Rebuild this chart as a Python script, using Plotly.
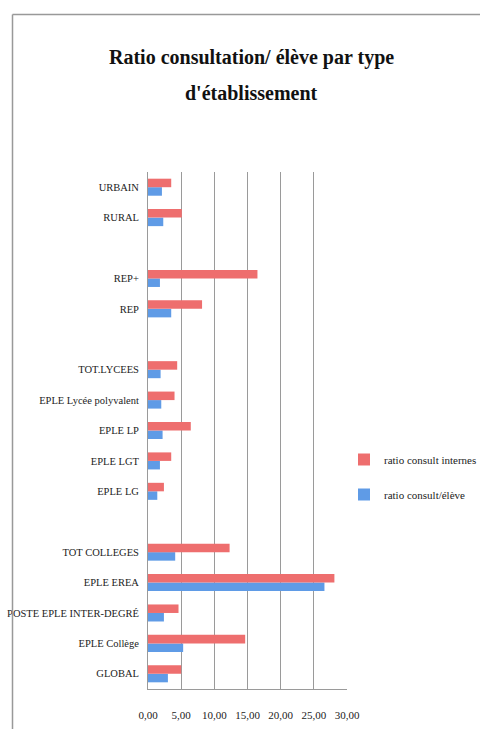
import plotly.graph_objects as go

categories = ["GLOBAL", "EPLE Collège", "POSTE EPLE INTER-DEGRÉ", "EPLE EREA", "TOT COLLEGES", " ",
              "EPLE LG", "EPLE LGT", "EPLE LP", "EPLE Lycée polyvalent", "TOT.LYCEES", "  ",
              "REP", "REP+", "   ", "RURAL", "URBAIN"]
ratio_eleve = [3.0, 5.3, 2.4, 26.6, 4.1, None,
               1.4, 1.8, 2.2, 2.0, 1.9, None,
               3.5, 1.8, None, 2.3, 2.1]
ratio_internes = [5.0, 14.65, 4.6, 28.1, 12.3, None,
                  2.4, 3.5, 6.45, 4.0, 4.4, None,
                  8.15, 16.5, None, 5.1, 3.5]
tick_vals = [0, 5, 10, 15, 20, 25, 30]
tick_text = ["0,00", "5,00", "10,00", "15,00", "20,00", "25,00", "30,00"]
title_lines = ["Ratio consultation/ élève par type", "d'établissement"]

FONT = "Liberation Serif, serif"

fig = go.Figure()
fig.add_trace(go.Bar(y=categories, x=ratio_eleve, orientation="h", name="ratio consult/élève",
                     marker=dict(color="#5F9BE6", line=dict(width=0)), legendgroup="b", legendrank=2))
fig.add_trace(go.Bar(y=categories, x=ratio_internes, orientation="h", name="ratio consult internes",
                     marker=dict(color="#EE6E6E", line=dict(width=0)), legendgroup="r", legendrank=1))

W, H = 480, 729
L, R, T, B = 148, 133, 172, 40
PW, PH = W - L - R, H - T - B


def px(x):
    return (x - L) / PW


def py(y):
    return (H - B - y) / PH


anns = [dict(xref="paper", yref="paper", x=px(251), y=py(yy), xanchor="center", yanchor="middle",
             showarrow=False, text="<b>" + t + "</b>",
             font=dict(family=FONT, size=20, color="#111"))
        for t, yy in zip(title_lines, [57, 93])]

fig.update_layout(
    width=W, height=H,
    margin=dict(l=L, r=R, t=T, b=B, autoexpand=False),
    paper_bgcolor="white", plot_bgcolor="white",
    barmode="group", bargap=0.44, bargroupgap=0,
    font=dict(family=FONT, color="#222", size=11),
    annotations=anns,
    legend=dict(x=px(344), xanchor="left", y=py(445), yanchor="top",
                traceorder="grouped", tracegroupgap=16,
                font=dict(family=FONT, size=11, color="#222"),
                bgcolor="rgba(0,0,0,0)"),
    xaxis=dict(range=[0, 30], tickvals=tick_vals, ticktext=tick_text, automargin=False,
               showgrid=True, gridcolor="#9a9a9a", gridwidth=1,
               showline=True, linecolor="#9a9a9a", linewidth=1,
               zeroline=False, ticks="", ticklabelstandoff=16,
               tickfont=dict(family=FONT, size=11, color="#222"), fixedrange=True),
    yaxis=dict(categoryorder="array", categoryarray=categories, automargin=False,
               showline=True, linecolor="#9a9a9a", linewidth=1,
               showgrid=False, ticks="", ticklabelstandoff=6,
               tickfont=dict(family=FONT, size=10.5, color="#222"), fixedrange=True),
    shapes=[
        dict(type="line", xref="paper", yref="paper",
             x0=px(12.5), x1=px(12.5), y0=py(14.5), y1=py(H),
             line=dict(color="#999", width=1.5)),
        dict(type="line", xref="paper", yref="paper",
             x0=px(12.5), x1=px(W), y0=py(14.5), y1=py(14.5),
             line=dict(color="#999", width=1.5)),
    ],
)

fig.write_html("out.html")
